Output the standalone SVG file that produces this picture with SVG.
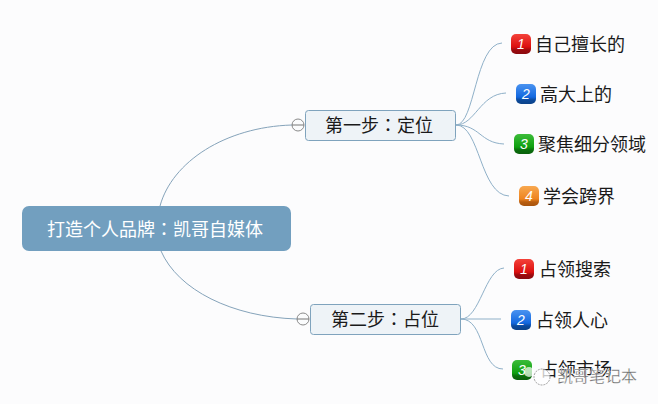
<svg xmlns="http://www.w3.org/2000/svg" width="658" height="404" viewBox="0 0 658 404">
<defs>
<linearGradient id="gr" x1="0" y1="0" x2="0" y2="1"><stop offset="0" stop-color="#f4423a"/><stop offset="0.65" stop-color="#dc0f0f"/><stop offset="0.8" stop-color="#9c0a0e"/><stop offset="1" stop-color="#8a0a10"/></linearGradient>
<linearGradient id="gb" x1="0" y1="0" x2="0" y2="1"><stop offset="0" stop-color="#4a93f0"/><stop offset="0.65" stop-color="#1368e0"/><stop offset="0.8" stop-color="#0c4a9c"/><stop offset="1" stop-color="#0c4288"/></linearGradient>
<linearGradient id="gg" x1="0" y1="0" x2="0" y2="1"><stop offset="0" stop-color="#3cbc3a"/><stop offset="0.65" stop-color="#0fa00f"/><stop offset="0.8" stop-color="#0a6e0c"/><stop offset="1" stop-color="#0a600c"/></linearGradient>
<linearGradient id="go" x1="0" y1="0" x2="0" y2="1"><stop offset="0" stop-color="#f8a850"/><stop offset="0.65" stop-color="#ee8420"/><stop offset="0.8" stop-color="#b85e10"/><stop offset="1" stop-color="#a8540e"/></linearGradient>
</defs>
<style>
text{font-family:"Noto Sans CJK SC","Liberation Sans",sans-serif}
.cl{font-family:"Noto Sans CJK TC",sans-serif}
.c{fill:none;stroke:#8fb0c8;stroke-width:1}
.c2{fill:none;stroke:#85a3ba;stroke-width:1}
.t{fill:#eef3f7;stroke:#7fa3bd;stroke-width:1}
.lb{font-size:18px;fill:#1a1a1a}
.tp{font-size:18px;fill:#1a1a1a;text-anchor:middle}
.n{font-size:14px;font-style:italic;fill:#fff;text-anchor:middle;font-family:"Liberation Sans",sans-serif}
.tg{fill:#fbfcfd;stroke:#8a8a8a;stroke-width:1}
.m{stroke:#777;stroke-width:1}
</style>
<rect width="658" height="404" fill="#fcfcfd"/>
<g id="connectors">
<path class="c2" d="M160 206C172 162 225 127 292 125"/>
<path class="c2" d="M161 251C178 290 232 317 297 319"/>
<path class="c" d="M456 125C475 125 475 44 502 43"/>
<path class="c" d="M456 125C475 125 480 94 506 93"/>
<path class="c" d="M456 125C480 125 480 143 504 144"/>
<path class="c" d="M456 125C480 125 480 195 509 196"/>
<path class="c" d="M461 319C480 319 485 269 504 268"/>
<path class="c" d="M461 319H501"/>
<path class="c" d="M461 319C485 319 480 369 503 369"/>
</g>
<g id="root"><rect x="22" y="206" width="269" height="45" rx="7" fill="#729fbf"/><text x="155" y="236" font-size="18" fill="#fff" text-anchor="middle">打造个人品牌<tspan class="cl">：</tspan>凯哥自媒体</text></g>
<g id="step1"><rect class="t" x="305.500" y="110.500" width="150" height="30" rx="3"/><text class="tp" x="379" y="132">第一步<tspan class="cl">：</tspan>定位</text>
<circle class="tg" cx="298" cy="125" r="6"/><path class="m" d="M292 125H304"/></g>
<g id="step2"><rect class="t" x="310.500" y="304.500" width="150" height="30" rx="3"/><text class="tp" x="385" y="326">第二步<tspan class="cl">：</tspan>占位</text>
<circle class="tg" cx="303" cy="319" r="6"/><path class="m" d="M297 319H309"/></g>
<g id="a1"><rect x="511" y="34" width="20" height="20" rx="5" fill="url(#gr)"/><text class="n" x="521" y="49">1</text><text class="lb" x="535" y="51">自己擅长的</text></g>
<g id="a2"><rect x="516" y="84" width="20" height="20" rx="5" fill="url(#gb)"/><text class="n" x="526" y="99">2</text><text class="lb" x="540" y="101">高大上的</text></g>
<g id="a3"><rect x="514" y="134" width="20" height="20" rx="5" fill="url(#gg)"/><text class="n" x="524" y="149">3</text><text class="lb" x="538" y="151">聚焦细分领域</text></g>
<g id="a4"><rect x="519" y="186" width="20" height="20" rx="5" fill="url(#go)"/><text class="n" x="529" y="201">4</text><text class="lb" x="543" y="203">学会跨界</text></g>
<g id="b1"><rect x="514" y="259" width="20" height="20" rx="5" fill="url(#gr)"/><text class="n" x="524" y="274">1</text><text class="lb" x="539" y="276">占领搜索</text></g>
<g id="b2"><rect x="511" y="310" width="20" height="20" rx="5" fill="url(#gb)"/><text class="n" x="521" y="325">2</text><text class="lb" x="536" y="327">占领人心</text></g>
<g id="b3"><rect x="512" y="360" width="20" height="20" rx="5" fill="url(#gg)"/><text class="n" x="522" y="375">3</text><text class="lb" x="540" y="376">占领市场</text></g>
<g id="watermark"><circle cx="529" cy="372" r="5" fill="#fff" fill-opacity="0.7"/><circle cx="542" cy="377" r="8" fill="#fff" fill-opacity="0.75" stroke="#888" stroke-width="0.8" stroke-dasharray="2 1"/><text x="557" y="382" font-size="16" fill="#666" stroke="#fff" stroke-width="0.3">凯哥笔记本</text></g>
</svg>
